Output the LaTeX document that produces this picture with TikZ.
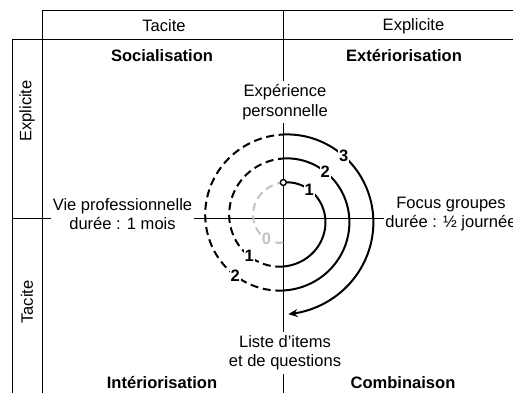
\documentclass[tikz,border=0pt]{standalone}
\usepackage{fontspec}
\setmainfont{Liberation Sans}
\usepackage{xcolor}
\definecolor{spiral-grey}{RGB}{195,195,195}
\usetikzlibrary{calc,arrows.meta}

\begin{document}
\begin{tikzpicture}[>={Stealth[length=7pt,width=6pt]}, x=0.75pt, y=-0.75pt,
	declare function={sprad(\t)=36+\t/15;},
	txt/.style={font=\fontsize{12.4}{14.5}\selectfont, align=center},
	lbl/.style={txt, fill=white, inner xsep=1pt, inner ysep=2.5pt},
	ttl/.style={txt, font=\fontsize{12.4}{14.5}\selectfont\bfseries},
	num/.style={font=\fontsize{12.4}{14.5}\selectfont\bfseries, fill=white, inner sep=0.6pt},
	rule/.style={line width=0.75pt},
	spire/.style={line width=1.5pt},
	dspire/.style={spire, dash pattern=on 6pt off 3.5pt}]
	\path[use as bounding box, clip] (0,0) rectangle (513,392);
	
	\coordinate (O) at (283.3,218.5);
	\coordinate (T1) at (42,11);
	\coordinate (T2) at (12,40);
	
	% table frame
	\draw[rule] (42,400) -- (T1) -- (520,11);
	\draw[rule] (12,400) -- (T2) -- (520,40);
	\draw[rule] (O |- T1) -- (283.3,400);
	\draw[rule] (O -| T2) -- (520,218.5);
	
	% spiral
	\draw[dspire, spiral-grey, shift={(O)}]
		plot[domain=-180:0, samples=40, smooth] ({\x-90}:{sprad(\x)});
	\draw[spire, shift={(O)}]
		plot[domain=0:180, samples=40, smooth] ({\x-90}:{sprad(\x)});
	\draw[dspire, shift={(O)}]
		plot[domain=180:360, samples=40, smooth] ({\x-90}:{sprad(\x)});
	\draw[spire, shift={(O)}]
		plot[domain=360:540, samples=40, smooth] ({\x-90}:{sprad(\x)});
	\draw[dspire, shift={(O)}]
		plot[domain=540:720, samples=40, smooth] ({\x-90}:{sprad(\x)});
	\draw[spire, ->, shift={(O)}]
		plot[domain=720:897, samples=40, smooth] ({\x-90}:{sprad(\x)});
	
	\node[circle, draw, fill=white, line width=1pt, inner sep=0pt, minimum size=4.5pt]
		(start) at ($(O)+(0,-36)$) {};
	
	\path[shift={(O)}]
		({-141-90}:{sprad(-141)}) node[num, text=spiral-grey] (n0) {0}
		({42-90}:{sprad(42)})     node[num] (s1) {1}
		({222-90}:{sprad(222)})   node[num] (d1) {1}
		({402-90}:{sprad(402)})   node[num] (s2) {2}
		({580-90}:{sprad(580)})   node[num] (d2) {2}
		({764-90}:{sprad(764)})   node[num] (s3) {3};
	
%	=======================================
	
	\node[txt] (hTacite)    at (164,26)   {Tacite};
	\node[txt] (hExplicite) at (413.5,26) {Explicite};
	\node[txt, rotate=90] (vExplicite) at (27,111) {Explicite};
	\node[txt, rotate=90] (vTacite)    at (27,302) {Tacite};
	
	\node[ttl] (soc) at (162,56)  {Socialisation};
	\node[ttl] (ext) at (404,56)  {Extériorisation};
	\node[ttl] (int) at (162,383) {Intériorisation};
	\node[ttl] (com) at (403,383) {Combinaison};
	
	\node[lbl] (exper) at (285,102)   {Expérience\\personnelle};
	\node[lbl] (vie)   at (122.5,214) {Vie professionnelle\\durée : 1 mois};
	\node[lbl] (focus) at (451,214)   {Focus groupes\\durée : ½ journée};
	\node[lbl] (liste) at (285,353)   {Liste d’items\\et de questions};
\end{tikzpicture}
\end{document}
